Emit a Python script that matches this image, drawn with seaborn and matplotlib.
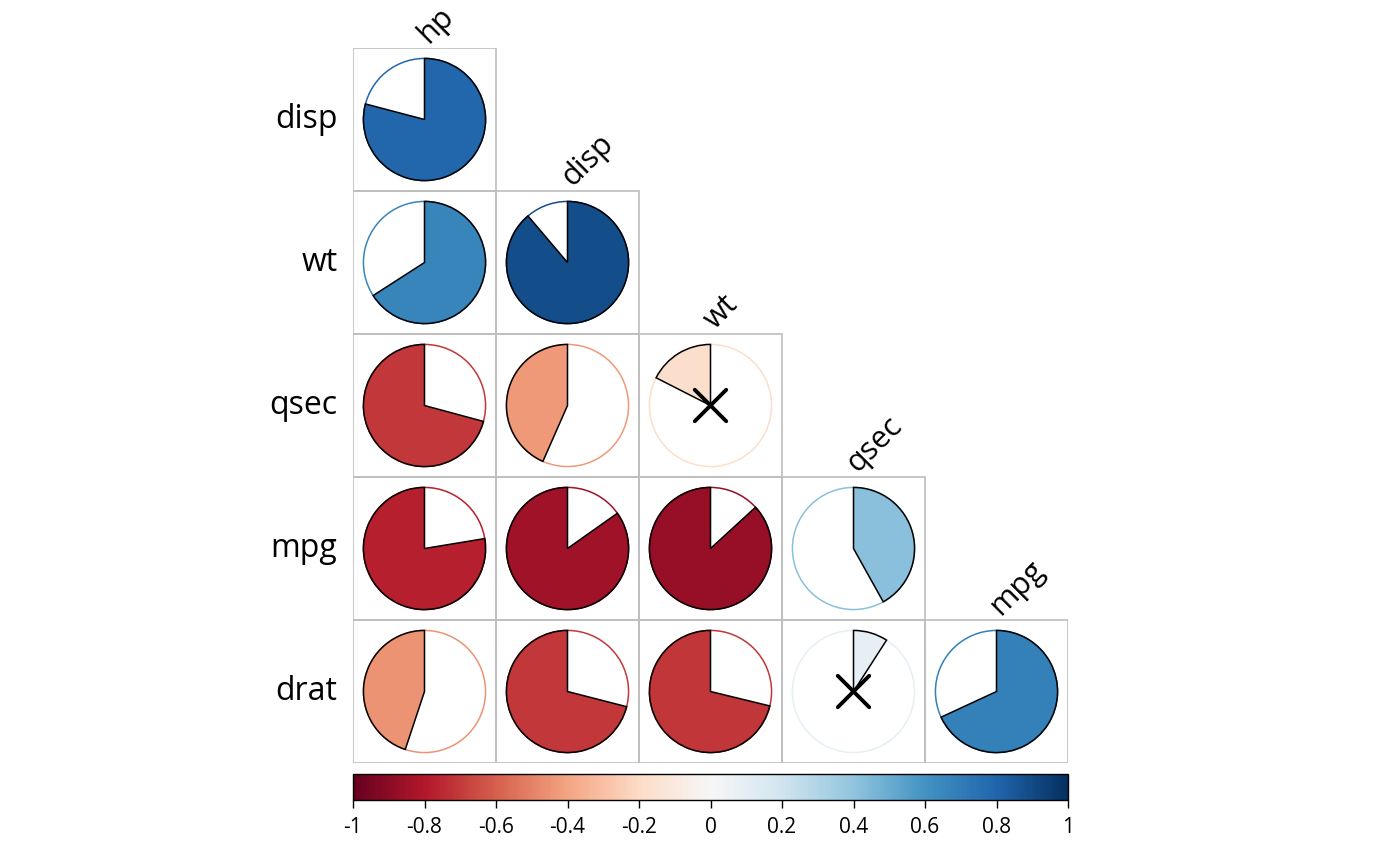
import matplotlib.pyplot as plt
import matplotlib as mpl
from matplotlib.patches import Wedge, Circle, Rectangle
from matplotlib.colors import ListedColormap, Normalize
import numpy as np
import seaborn as sns

sns.set_theme(style='white')
plt.rcParams['font.family'] = ['Open Sans', 'DejaVu Sans']

# mtcars correlations (lower triangle incl. "diagonal" of the shifted grid)
row_names = ['disp', 'wt', 'qsec', 'mpg', 'drat']
col_names = ['hp', 'disp', 'wt', 'qsec', 'mpg']
corr = [
    [0.791],
    [0.659, 0.888],
    [-0.708, -0.434, -0.175],
    [-0.776, -0.848, -0.868, 0.419],
    [-0.449, -0.710, -0.712, 0.091, 0.681],
]
# insignificant pairs get a cross
insig = [(2, 2), (4, 3)]

n = len(row_names)
mat = np.full((n, n), np.nan)
for i, row in enumerate(corr):
    for j, v in enumerate(row):
        mat[i, j] = v
mask = np.isnan(mat)

fig = plt.figure(figsize=(14, 8.66), dpi=100)
ax = fig.add_axes([353 / 1400, 103 / 866, 715 / 1400, 715 / 866])

sns.heatmap(np.zeros((n, n)), mask=mask, cmap=ListedColormap(['white']),
            cbar=False, linewidths=0, square=True,
            xticklabels=False, yticklabels=False, ax=ax)

cmap = plt.get_cmap('RdBu')
norm = Normalize(-1, 1)
radius = 0.427

for i in range(n):
    for j in range(n):
        if mask[i, j]:
            continue
        v = mat[i, j]
        cx, cy = j + 0.5, i + 0.5
        col = cmap(norm(v))
        ax.add_patch(Rectangle((j, i), 1, 1, facecolor='none',
                               edgecolor='#BEBEBE', lw=1.2, zorder=2))
        ax.add_patch(Circle((cx, cy), radius, facecolor='none',
                            edgecolor=col, lw=1.1, zorder=3))
        # y axis is inverted: 270 deg is 12 o'clock, increasing angle = clockwise
        if v >= 0:
            t1, t2 = 270, 270 + 360 * v
        else:
            t1, t2 = 270 + 360 * v, 270
        ax.add_patch(Wedge((cx, cy), radius, t1, t2, facecolor=col,
                           edgecolor='black', lw=1.1, zorder=4))
        if (i, j) in insig:
            d = 0.11
            ax.plot([cx - d, cx + d], [cy - d, cy + d], color='black', lw=2.8,
                    solid_capstyle='round', zorder=5)
            ax.plot([cx - d, cx + d], [cy + d, cy - d], color='black', lw=2.8,
                    solid_capstyle='round', zorder=5)

for i, name in enumerate(row_names):
    ax.text(-0.11, i + 0.5, name, ha='right', va='center', fontsize=23,
            color='black')
for j, name in enumerate(col_names):
    ax.text(j + 0.565, j + 0.005, name, ha='left', va='bottom', fontsize=22,
            rotation=45, rotation_mode='anchor', color='black')

ax.set_xlim(0, n)
ax.set_ylim(n, 0)
ax.axis('off')

cax = fig.add_axes([353 / 1400, 66 / 866, 715 / 1400, 26 / 866])
cb = mpl.colorbar.ColorbarBase(cax, cmap=cmap, norm=norm,
                               orientation='horizontal')
ticks = [-1, -0.8, -0.6, -0.4, -0.2, 0, 0.2, 0.4, 0.6, 0.8, 1]
cb.set_ticks(ticks)
cb.set_ticklabels(['-1', '-0.8', '-0.6', '-0.4', '-0.2', '0', '0.2', '0.4',
                   '0.6', '0.8', '1'])
cax.tick_params(axis='x', direction='out', length=6, width=1, labelsize=15,
                bottom=True, pad=6, colors='black')
cb.outline.set_edgecolor('black')
cb.outline.set_linewidth(1)

fig.savefig('out.png', dpi=100, facecolor='white')
